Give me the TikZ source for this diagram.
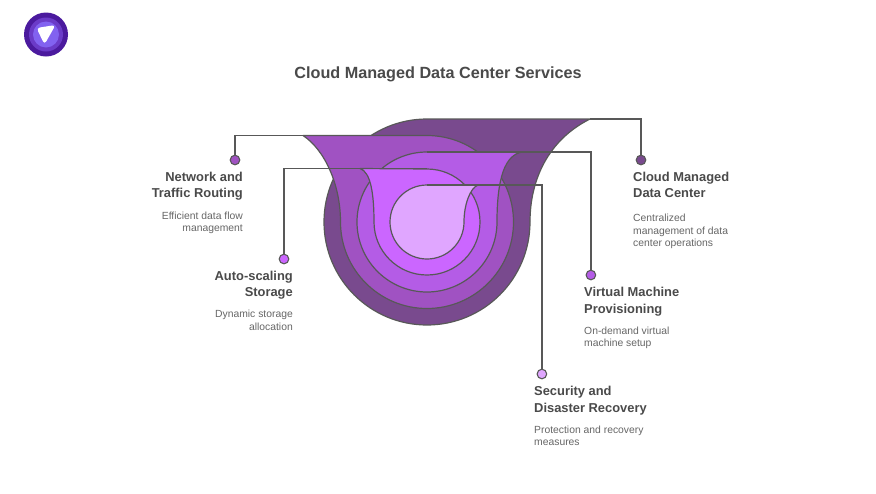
\documentclass[tikz,border=0pt]{standalone}
\usepackage{fontspec}
\setmainfont{Liberation Sans}
\definecolor{lnc}{HTML}{585858}
\definecolor{headc}{HTML}{4A4A4A}
\definecolor{subc}{HTML}{666666}
\definecolor{cA}{HTML}{794A8E}
\definecolor{cB}{HTML}{A052C2}
\definecolor{cC}{HTML}{B45CE6}
\definecolor{cD}{HTML}{CB66FF}
\definecolor{cE}{HTML}{E0A6FF}
\definecolor{logoA}{HTML}{4B1A9E}
\definecolor{logoB}{HTML}{6B3BC8}
\definecolor{logoC}{HTML}{8262F0}
\tikzset{
 band/.style={draw=lnc,line width=1.2pt,line join=round},
 link/.style={draw=lnc,line width=1.2pt},
 dot/.style={circle,draw=lnc,line width=1.1pt,minimum size=9.6pt,inner sep=0pt},
 headl/.style={font=\fontsize{12.9}{16.5}\selectfont\bfseries,text=headc,inner sep=0pt},
 subl/.style={font=\fontsize{10.35}{12.5}\selectfont,text=subc,inner sep=0pt},
}
\begin{document}
\begin{tikzpicture}[x=1pt,y=-1pt]
\useasboundingbox (0,0) rectangle (876,493);
\fill[white] (0,0) rectangle (876,493);
% logo
\fill[logoA] (46,34.5) circle (22);
\fill[logoB] (46,34.5) circle (17);
\fill[logoC] (46,34.5) circle (13);
\fill[white,rounded corners=3.5pt] (36.5,28) -- (55.5,25) -- (44.5,44.5) -- cycle;
% title
\node[font=\fontsize{16.2}{20}\selectfont\bfseries,text=headc,inner sep=0pt] (title) at (438,74) {Cloud Managed Data Center Services};
% funnel corners and tops
\coordinate (fA) at (590,119); \coordinate (tA) at (427,119);
\coordinate (fB) at (303,135.5); \coordinate (tB) at (427,135.5);
\coordinate (fC) at (522,152); \coordinate (tC) at (427,152);
\coordinate (fD) at (360,168.5); \coordinate (tD) at (427,168.5);
\coordinate (fE) at (478,185); \coordinate (tE) at (427,185);
% bands
\path[band,fill=cA] (fA) .. controls (548,140) and (530,180) .. (530,222)
  arc[start angle=0,end angle=180,radius=103] arc[start angle=180,end angle=270,radius=103] -- cycle;
\path[band,fill=cB] (fB) .. controls (325,150) and (340.5,185) .. (340.5,222)
  arc[start angle=180,end angle=0,radius=86.5] arc[start angle=0,end angle=-90,radius=86.5] -- cycle;
\path[band,fill=cC] (fC) .. controls (505,155) and (497,178) .. (497,222)
  arc[start angle=0,end angle=180,radius=70] arc[start angle=180,end angle=270,radius=70] -- cycle;
\path[band,fill=cD] (fD) .. controls (371,172) and (374,195) .. (374,222)
  arc[start angle=180,end angle=0,radius=53] arc[start angle=0,end angle=-90,radius=53] -- cycle;
\path[band,fill=cE] (fE) .. controls (470,188) and (464,205) .. (464,222)
  arc[start angle=0,end angle=180,radius=37] arc[start angle=180,end angle=270,radius=37] -- cycle;
% dots
\node[dot,fill=cA] (dA) at (641,160) {};
\node[dot,fill=cB] (dB) at (235,160) {};
\node[dot,fill=cC] (dC) at (590.9,275) {};
\node[dot,fill=cD] (dD) at (284,259) {};
\node[dot,fill=cE] (dE) at (541.9,374) {};
% connectors
\draw[link] (dA.north) |- (fA);
\draw[link] (dB.north) |- (fB);
\draw[link] (dC.north) |- (tC);
\draw[link] (dD.north) |- (tD);
\draw[link] (dE.north) |- (tE);
% labels
\node[headl,anchor=north west,align=left] (hA) at (633,171.5) {Cloud Managed\\Data Center};
\node[subl,anchor=north west,align=left] (sA) at (633,214) {Centralized\\management of data\\center operations};
\node[headl,anchor=north east,align=right] (hB) at (243,171.5) {Network and\\Traffic Routing};
\node[subl,anchor=north east,align=right] (sB) at (243,211.5) {Efficient data flow\\management};
\node[headl,anchor=north east,align=right] (hD) at (293,270.5) {Auto-scaling\\Storage};
\node[subl,anchor=north east,align=right] (sD) at (293,310) {Dynamic storage\\allocation};
\node[headl,anchor=north west,align=left] (hC) at (584,287) {Virtual Machine\\Provisioning};
\node[subl,anchor=north west,align=left] (sC) at (584,326.5) {On-demand virtual\\machine setup};
\node[headl,anchor=north west,align=left] (hE) at (534,386) {Security and\\Disaster Recovery};
\node[subl,anchor=north west,align=left] (sE) at (534,425.5) {Protection and recovery\\measures};
\end{tikzpicture}
\end{document}
